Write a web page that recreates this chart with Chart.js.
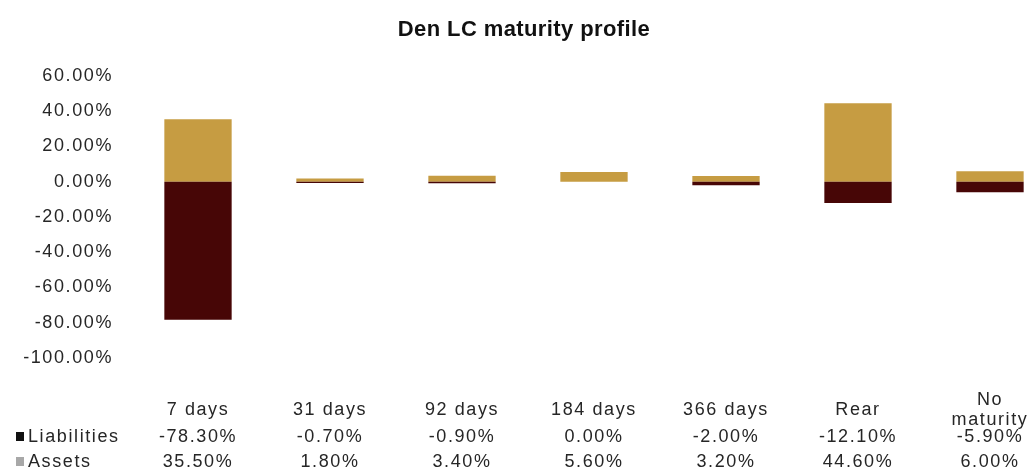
<!DOCTYPE html>
<html>
<head>
<meta charset="utf-8">
<script src="https://cdn.jsdelivr.net/npm/chart.js@4.4.1/dist/chart.umd.min.js"></script>
<style>
  html, body { margin: 0; padding: 0; background: #ffffff; overflow: hidden; }
  #wrap { width: 1032px; height: 473px; overflow: hidden; position: relative; }
  #box { width: 1060px; height: 473px; position: absolute; left: 0; top: 0; }
</style>
</head>
<body>
<div id="wrap"><div id="box"><canvas id="c"></canvas></div></div>
<script>
const title = "Den LC maturity profile";
const categories = ["7 days", "31 days", "92 days", "184 days", "366 days", "Rear", "No\nmaturity"];
const liabilities = [-78.3, -0.7, -0.9, 0.0, -2.0, -12.1, -5.9];
const assets = [35.5, 1.8, 3.4, 5.6, 3.2, 44.6, 6.0];
const seriesNames = ["Liabilities", "Assets"];
const yTicks = [60, 40, 20, 0, -20, -40, -60, -80, -100];

const TEXT = "#262626";
const FONT = "'Liberation Sans', Arial, sans-serif";
const C_LIAB = "#470606";
const C_ASSET = "#c69c42";
const SPACING = '1.6px';

const fmt = v => v.toFixed(2) + "%";

const spacingPlugin = {
  id: 'spacing',
  beforeDraw(chart) { chart.ctx.letterSpacing = SPACING; }
};

const tablePlugin = {
  id: 'table',
  afterDraw(chart) {
    const ctx = chart.ctx;
    const xs = chart.scales.x;
    ctx.save();
    // title
    ctx.fillStyle = '#111';
    ctx.font = "bold 22px " + FONT;
    ctx.textAlign = 'center';
    ctx.textBaseline = 'middle';
    ctx.letterSpacing = '0.4px';
    ctx.fillText(title, 524, 30);
    ctx.letterSpacing = SPACING;

    ctx.font = "18px " + FONT;
    ctx.fillStyle = TEXT;
    // category labels
    categories.forEach((c, i) => {
      const x = xs.getPixelForValue(i);
      const lines = c.split("\n");
      const lh = 20;
      const y0 = 410 - (lines.length - 1) * lh / 2;
      lines.forEach((ln, k) => ctx.fillText(ln, x, y0 + k * lh));
    });
    // rows
    const rows = [liabilities, assets];
    const rowY = [437, 462];
    const keyColors = ['#111111', '#a8a8a8'];
    rows.forEach((arr, r) => {
      ctx.fillStyle = keyColors[r];
      ctx.fillRect(16, rowY[r] - 5, 8, 9);
      ctx.fillStyle = TEXT;
      ctx.textAlign = 'left';
      ctx.fillText(seriesNames[r], 28, rowY[r]);
      ctx.textAlign = 'center';
      arr.forEach((v, i) => {
        ctx.fillText(fmt(v), xs.getPixelForValue(i), rowY[r]);
      });
    });
    ctx.restore();
  }
};

new Chart(document.getElementById('c'), {
  type: 'bar',
  data: {
    labels: categories,
    datasets: [
      { label: seriesNames[0], data: liabilities, backgroundColor: C_LIAB, borderWidth: 0 },
      { label: seriesNames[1], data: assets, backgroundColor: C_ASSET, borderWidth: 0 }
    ]
  },
  options: {
    responsive: true,
    maintainAspectRatio: false,
    animation: false,
    layout: { padding: { top: 76, bottom: 115, left: 0, right: 4 } },
    plugins: {
      legend: { display: false },
      title: { display: false },
      tooltip: { enabled: false }
    },
    datasets: { bar: { categoryPercentage: 1.0, barPercentage: 0.51 } },
    scales: {
      x: {
        stacked: true,
        display: false,
        grid: { display: false }
      },
      y: {
        stacked: true,
        min: Math.min(...yTicks),
        max: Math.max(...yTicks),
        afterFit(scale) { scale.width = 132; },
        afterBuildTicks(scale) { scale.ticks = yTicks.map(v => ({ value: v })); },
        grid: { display: false, drawTicks: false },
        border: { display: false },
        ticks: {
          padding: 19,
          color: TEXT,
          font: { family: FONT, size: 18 },
          callback: v => fmt(v)
        }
      }
    }
  },
  plugins: [spacingPlugin, tablePlugin]
});
</script>
</body>
</html>
